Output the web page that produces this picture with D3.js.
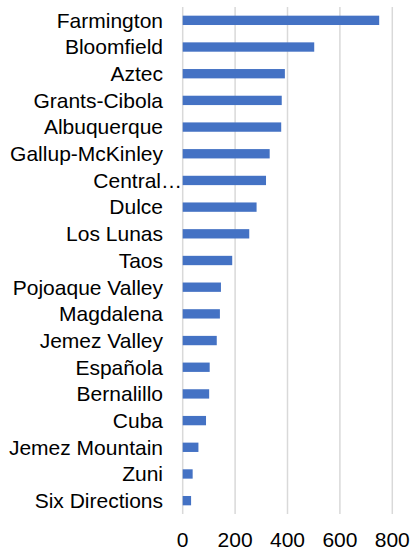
<!DOCTYPE html>
<html>
<head>
<meta charset="utf-8">
<script src="https://cdn.jsdelivr.net/npm/d3@7"></script>
<style>
  html, body { margin: 0; padding: 0; background: #fff; }
  svg { display: block; }
  text { font-family: "Liberation Sans", Arial, sans-serif; fill: #000; }
</style>
</head>
<body>
<svg id="chart" width="412" height="552"></svg>
<script>
const categories = ["Farmington","Bloomfield","Aztec","Grants-Cibola","Albuquerque","Gallup-McKinley","Central…","Dulce","Los Lunas","Taos","Pojoaque Valley","Magdalena","Jemez Valley","Española","Bernalillo","Cuba","Jemez Mountain","Zuni","Six Directions"];
const values = [750, 502, 390, 378, 376, 332, 318, 282, 254, 189, 146, 142, 130, 103, 101, 89, 60, 38, 32];
const xTicks = [0, 200, 400, 600, 800];

const svg = d3.select("#chart");
const plot = { left: 182.7, right: 392.3, top: 7, bottom: 514 };
const fs = 21;

const x = d3.scaleLinear().domain([0, 800]).range([plot.left, plot.right]);
const y = d3.scaleBand().domain(categories).range([plot.top, plot.bottom])
  .paddingInner(0.65).paddingOuter(0.325);

// gridlines
svg.append("g").selectAll("line").data(xTicks).join("line")
  .attr("x1", d => x(d)).attr("x2", d => x(d))
  .attr("y1", plot.top).attr("y2", plot.bottom)
  .attr("stroke", "#d9d9d9").attr("stroke-width", 1.5);

// bars
svg.append("g").selectAll("rect").data(categories).join("rect")
  .attr("x", x(0))
  .attr("y", d => y(d))
  .attr("width", (d, i) => x(values[i]) - x(0))
  .attr("height", y.bandwidth())
  .attr("fill", "#4472C4");

// category labels
const labelEnd = 163;
const lab = svg.append("g").selectAll("text").data(categories).join("text")
  .attr("y", d => y(d) + y.bandwidth() / 2)
  .attr("dy", "0.35em")
  .attr("text-anchor", "end")
  .attr("font-size", fs)
  .text(d => d);
lab.attr("x", function(d) {
  if (d.endsWith("…")) {
    const t = svg.append("text").attr("font-size", fs).text("…");
    const w = t.node().getComputedTextLength();
    t.remove();
    return labelEnd + w - 2;
  }
  return labelEnd;
});

// x tick labels
svg.append("g").selectAll("text").data(xTicks).join("text")
  .attr("x", d => x(d))
  .attr("y", 547)
  .attr("text-anchor", "middle")
  .attr("font-size", fs)
  .text(d => d);
</script>
</body>
</html>
